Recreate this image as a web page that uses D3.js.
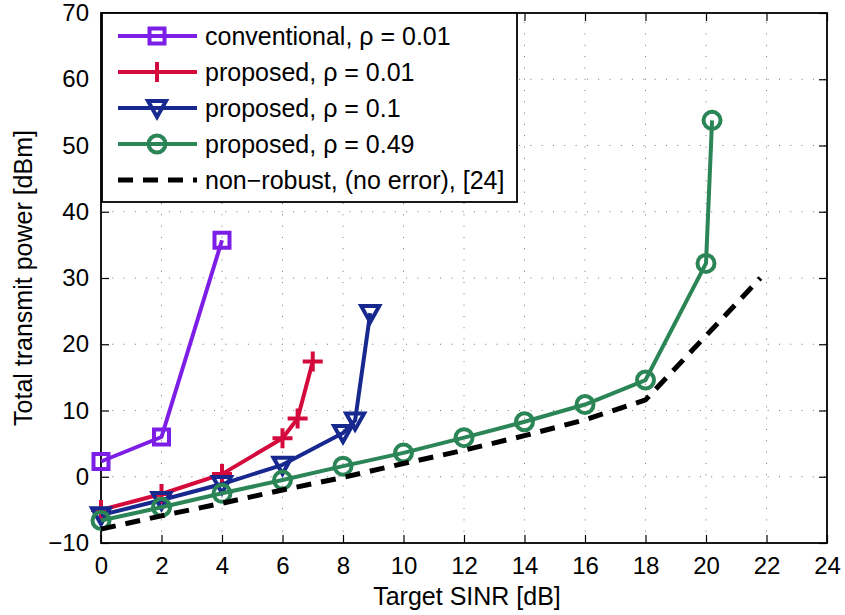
<!DOCTYPE html>
<html><head><meta charset="utf-8">
<script src="https://cdn.jsdelivr.net/npm/d3@7/dist/d3.min.js"></script>
<style>
body{margin:0;background:#fff;}
text{font-family:"Liberation Sans",Arial,Helvetica,sans-serif;}
</style></head>
<body><svg id="c" width="845" height="615"></svg>
<script>
const xTicks=[0,2,4,6,8,10,12,14,16,18,20,22,24];
const yTicks=[-10,0,10,20,30,40,50,60,70];
const convX=[0,2,4];
const convY=[2.3,6.0,35.7];
const p001X=[0,2,4,6,6.5,7];
const p001Y=[-5.0,-2.6,0.4,5.8,8.8,17.4];
const p01X=[0,2,4,6,8,8.4,8.9];
const p01Y=[-5.8,-3.5,-1.1,1.8,6.6,8.5,24.7];
const p049X=[0,2,4,6,8,10,12,14,16,18,20,20.2];
const p049Y=[-6.6,-4.6,-2.5,-0.5,1.6,3.6,5.9,8.3,10.9,14.6,32.2,53.8];
const nrX=[0,2,4,6,8,10,12,14,16,18,21.8];
const nrY=[-7.9,-5.9,-4.0,-2.0,-0.1,2.0,4.0,6.2,8.6,11.6,30.0];
const legendLabels=["conventional, ρ = 0.01","proposed, ρ = 0.01","proposed, ρ = 0.1","proposed, ρ = 0.49","non\u2212robust, (no error), [24]"];
const xLabel="Target SINR [dB]";
const yLabel="Total transmit power [dBm]";

const series=[
 {x:convX,y:convY,color:"#7d1ee6",marker:"square"},
 {x:p001X,y:p001Y,color:"#d50a3c",marker:"plus"},
 {x:p01X,y:p01Y,color:"#17288f",marker:"tri"},
 {x:p049X,y:p049Y,color:"#2b8556",marker:"circle"},
 {x:nrX,y:nrY,color:"#000",marker:null,dash:true}
];

const L=101,R=827,T=13,B=543;
const x=d3.scaleLinear().domain([0,24]).range([L,R]);
const y=d3.scaleLinear().domain([-10,70]).range([B,T]);
const svg=d3.select("#c");
const fs=24, fl=25;
const lw=4;

// grid
const g=svg.append("g");
g.selectAll(".gx").data(xTicks.slice(1,-1)).enter().append("line")
 .attr("x1",d=>x(d)).attr("x2",d=>x(d)).attr("y1",B).attr("y2",T)
 .attr("stroke","#777").attr("stroke-width",1).attr("stroke-dasharray","1,10.3");
g.selectAll(".gy").data(yTicks.slice(1,-1)).enter().append("line")
 .attr("y1",d=>y(d)).attr("y2",d=>y(d)).attr("x1",L).attr("x2",R)
 .attr("stroke","#777").attr("stroke-width",1).attr("stroke-dasharray","1,10.3");

// axes (ticks inward)
const tl=8;
const axB=d3.axisBottom(x).tickValues(xTicks).tickSize(-tl).tickPadding(tl+6).tickFormat(d3.format("d"));
const axT=d3.axisTop(x).tickValues(xTicks).tickSize(-tl).tickFormat("");
const axL=d3.axisLeft(y).tickValues(yTicks).tickSize(-tl).tickPadding(tl+4).tickFormat(d=>d<0?"\u2212"+Math.abs(d):d);
const axR=d3.axisRight(y).tickValues(yTicks).tickSize(-tl).tickFormat("");
function style(sel){sel.selectAll("path").attr("stroke","#000").attr("stroke-width",1.6);
 sel.selectAll("line").attr("stroke","#000").attr("stroke-width",1.2);
 sel.selectAll("text").attr("font-size",fs).attr("fill","#000").attr("font-family","Liberation Sans, Arial, sans-serif");}
style(svg.append("g").attr("transform",`translate(0,${B})`).call(axB));
style(svg.append("g").attr("transform",`translate(0,${T})`).call(axT));
style(svg.append("g").attr("transform",`translate(${L},0)`).call(axL));
style(svg.append("g").attr("transform",`translate(${R},0)`).call(axR));
svg.selectAll(".domain").attr("d",null);
svg.append("rect").attr("x",L).attr("y",T).attr("width",R-L).attr("height",B-T)
 .attr("fill","none").attr("stroke","#000").attr("stroke-width",1.8);

// markers
function drawMarker(sel,type,color,cx,cy){
 const s=sel.append("g").attr("transform",`translate(${cx},${cy})`);
 if(type==="square") s.append("rect").attr("x",-7.5).attr("y",-7.5).attr("width",15).attr("height",15).attr("fill","none").attr("stroke",color).attr("stroke-width",lw);
 if(type==="plus") s.append("path").attr("d","M-10,0H10M0,-10V10").attr("stroke",color).attr("stroke-width",lw);
 if(type==="tri") s.append("path").attr("d","M-9,-7L9,-7L0,9Z").attr("fill","none").attr("stroke",color).attr("stroke-width",lw).attr("stroke-linejoin","miter");
 if(type==="circle") s.append("circle").attr("r",8.5).attr("fill","none").attr("stroke",color).attr("stroke-width",lw);
}
const line=d3.line().x(d=>x(d[0])).y(d=>y(d[1]));
const plot=svg.append("g");
series.forEach(s=>{
 const pts=s.x.map((v,i)=>[v,s.y[i]]);
 plot.append("path").attr("d",line(pts)).attr("fill","none").attr("stroke",s.color)
  .attr("stroke-width",s.dash?5:lw).attr("stroke-dasharray",s.dash?"15,10":null).attr("stroke-linejoin","round");
 if(s.marker) pts.forEach(p=>drawMarker(plot,s.marker,s.color,x(p[0]),y(p[1])));
});

// labels
svg.append("text").attr("x",467).attr("y",605).attr("text-anchor","middle").attr("font-size",fl).text(xLabel);
svg.append("text").attr("transform",`translate(32,${(T+B)/2}) rotate(-90)`).attr("text-anchor","middle").attr("font-size",fl).text(yLabel);

// legend
const lg=svg.append("g");
lg.append("rect").attr("x",102).attr("y",13).attr("width",415).attr("height",189).attr("fill","#fff").attr("stroke","#000").attr("stroke-width",1.8);
legendLabels.forEach((t,i)=>{
 const cy=36+i*36, s=series[i];
 lg.append("line").attr("x1",118).attr("x2",197).attr("y1",cy).attr("y2",cy).attr("stroke",s.color)
  .attr("stroke-width",s.dash?5:lw).attr("stroke-dasharray",s.dash?"15,10":null);
 if(s.marker) drawMarker(lg,s.marker,s.color,157,cy);
 lg.append("text").attr("x",205).attr("y",cy).attr("dy","0.35em").attr("font-size",fl).text(t);
});
</script></body></html>
